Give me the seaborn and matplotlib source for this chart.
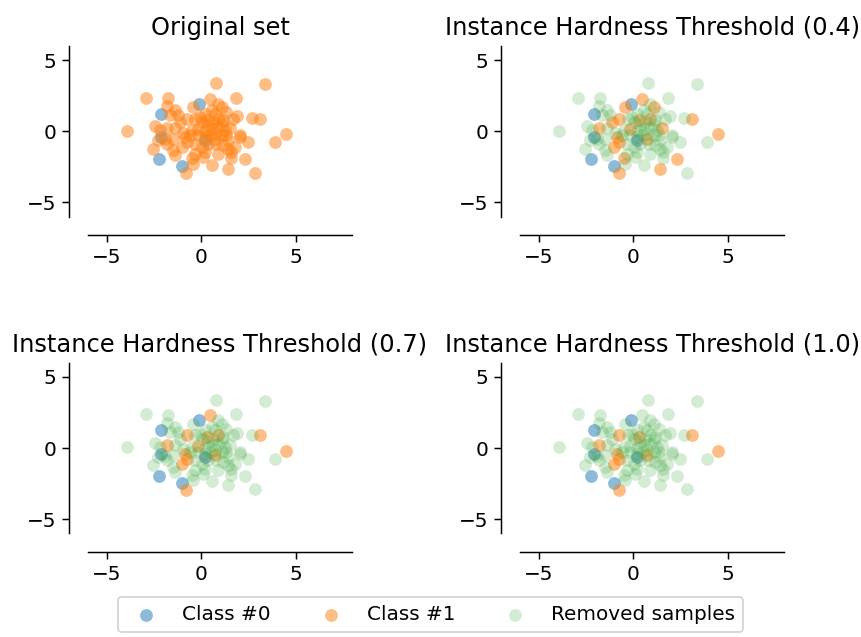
import numpy as np
import matplotlib
matplotlib.use("Agg")
import matplotlib.pyplot as plt
import seaborn as sns

# minority class (always kept)
class0_x = [-0.12, -2.10, -2.24, -1.01, -2.10, 0.19]
class0_y = [1.94, 1.24, -1.96, -2.46, -0.40, -0.63]

# majority class
class1_x = [0.76, 3.37, -2.93, -1.78, 1.83, -3.92, 4.51, 3.90, 2.70, 3.12,
            -2.54, 2.84, 1.43, 0.55, 2.31, 1.60, -0.78, 2.49, 2.05,
            0.46, 0.90, 1.08, -0.42, -1.39, -1.66, -1.83, -0.74, -0.30, 0.32,
            0.90, 1.16, 1.69, 1.92, -1.13, 1.34, 0.55, 0.19,
            -2.45, -1.83, -2.19, -1.39, -0.16, 0.19, 0.55, 0.90, 1.25, 1.52,
            2.05, -0.95, -0.51, 0.72, 1.08,
            -1.92, -0.86, -0.74, -1.04, 0.72, 1.16, 1.78, 0.37, -1.48, -0.34,
            0.02, 1.43, -1.83, -2.28,
            -0.34, -0.51, 0.11, -0.42, 0.90, -1.39, 1.60,
            0.02, 0.37, -0.16, 0.19, 0.63, 1.08, 1.34, -0.07, 0.46, 0.81,
            -0.60, -1.22, 1.43, 0.19, -1.48, 0.72]
class1_y = [3.39, 3.30, 2.36, 2.34, 2.36, 0.05, -0.21, -0.75, 0.94, 0.89,
            -1.22, -2.90, -2.62, -2.34, -1.96, -1.87, -2.92, -0.75, -0.40,
            2.29, 1.94, 1.71, 1.71, 1.47, 1.12, 1.78, 0.89, 0.89, 0.77,
            0.89, 0.77, 0.89, 1.05, 0.65, 1.36, 1.47, 1.24,
            0.37, 0.23, 0.07, 0.23, 0.14, 0.00, 0.19, 0.30, 0.07, 0.23,
            -0.28, -0.09, 0.07, -0.16, -0.28,
            -0.56, -0.40, -0.75, -1.10, -0.51, -0.98, -1.10, -0.87, -1.33, -0.87,
            -1.10, -0.63, -0.87, -0.63,
            -1.57, -1.87, -1.80, -2.27, -1.57, -1.68, -1.45,
            0.65, 0.42, -0.28, -0.40, 0.65, 0.54, -0.28, 1.01, -0.28, -0.87,
            -0.28, 1.12, -1.22, -1.45, -0.51, 1.24]

# indices of majority samples kept by each threshold
kept_10 = [6, 9, 16, 26, 28, 38, 53, 54, 55, 56]
kept_07 = kept_10 + [19, 29, 41]
kept_04 = kept_07 + [12, 14, 21, 22, 33, 46, 67]

titles = ["Original set",
          "Instance Hardness Threshold (0.4)",
          "Instance Hardness Threshold (0.7)",
          "Instance Hardness Threshold (1.0)"]
kept_sets = [None, kept_04, kept_07, kept_10]

x1 = np.array(class1_x)
y1 = np.array(class1_y)

plt.rcParams["axes.titlesize"] = 12.9
plt.rcParams["xtick.labelsize"] = 10.7
plt.rcParams["ytick.labelsize"] = 10.7
plt.rcParams["legend.fontsize"] = 10.7

fig, axs = plt.subplots(2, 2, figsize=(6.4015, 4.7365), dpi=134.5)
fig.subplots_adjust(left=0.102, right=0.911, top=0.928, bottom=0.1625,
                    wspace=0.634, hspace=0.854)

pts = dict(s=47, linewidth=0, legend=False)
for ax, title, kept in zip(axs.flat, titles, kept_sets):
    mask = np.zeros(len(x1), dtype=bool)
    if kept is None:
        mask[:] = True
    else:
        mask[kept] = True
    sns.scatterplot(x=class0_x, y=class0_y, ax=ax, color="tab:blue", alpha=0.5,
                    label="Class #0", **pts)
    sns.scatterplot(x=x1[mask], y=y1[mask], ax=ax, color="tab:orange", alpha=0.5,
                    label="Class #1", **pts)
    if kept is not None:
        sns.scatterplot(x=x1[~mask], y=y1[~mask], ax=ax, color="tab:green",
                        alpha=0.2, label="Removed samples", **pts)
    ax.set_title(title)
    ax.set_xlim(-6, 8)
    ax.set_ylim(-6, 6)
    ax.set_xticks([-5, 0, 5])
    ax.set_yticks([-5, 0, 5])

sns.despine(fig=fig, offset=10)

handles, labels = axs[0, 1].get_legend_handles_labels()
fig.legend(handles, labels, loc="lower center", ncol=3,
           bbox_to_anchor=(0.5, -0.008))

fig.savefig("out.png", dpi=134.5)
